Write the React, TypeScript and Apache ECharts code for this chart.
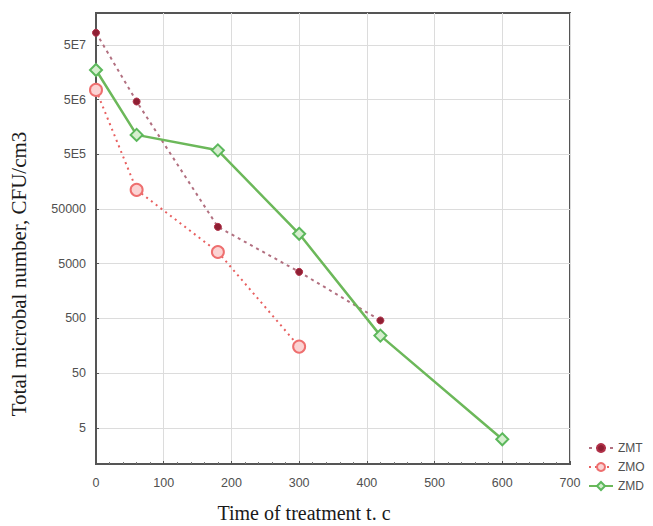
import React, { useEffect, useRef } from "react";
import * as echarts from "echarts";

const xTicks = [0, 100, 200, 300, 400, 500, 600, 700];
const yTickValues = [5, 50, 500, 5000, 50000, 5e5, 5e6, 5e7];
const yTickLabels = ["5", "50", "500", "5000", "50000", "5E5", "5E6", "5E7"];

const zmtTime = [0, 60, 180, 300, 420];
const zmtValues = [8.3e7, 4.6e6, 23600, 3550, 460];

const zmoTime = [0, 60, 180, 300];
const zmoValues = [7.5e6, 1.12e5, 8200, 153];

const zmdTime = [0, 60, 180, 300, 420, 600];
const zmdValues = [1.73e7, 1.13e6, 5.9e5, 17600, 243, 3.1];

const lg = (v: number) => Math.log10(v);

export default function App() {
  const ref = useRef<HTMLDivElement>(null);
  useEffect(() => {
    if (!ref.current) return;
    const chart = echarts.init(ref.current, null, { renderer: "svg" });
    const yCustom = yTickValues.map(lg);
    const fmtY = (v: number) => {
      for (let i = 0; i < yCustom.length; i++) {
        if (Math.abs(yCustom[i] - v) < 1e-6) return yTickLabels[i];
      }
      return "";
    };
    const mk = (t: number[], v: number[]) => t.map((x, i) => [x, lg(v[i])]);
    const labelStyle = { color: "#505050", fontSize: 12.5, fontFamily: "Liberation Sans" };
    chart.setOption({
      animation: false,
      backgroundColor: "#fff",
      grid: {
        left: 96,
        right: 83,
        top: 13,
        bottom: 62,
        show: true,
        borderColor: "#555",
        borderWidth: 2,
      },
      legend: {
        orient: "vertical",
        left: 588,
        top: 442,
        itemWidth: 24,
        itemHeight: 10,
        itemGap: 7,
        padding: 0,
        textStyle: { color: "#505050", fontSize: 12, fontFamily: "Liberation Sans" },
        data: ["ZMT", "ZMO", "ZMD"],
      },
      xAxis: {
        type: "value",
        min: 0,
        max: 700,
        interval: 100,
        axisLine: { show: true, lineStyle: { color: "#555", width: 2 } },
        axisTick: { show: true, inside: true, length: 3, lineStyle: { color: "#555" } },
        minorTick: { show: true, splitNumber: 5, length: 2, lineStyle: { color: "#777" } },
        axisLabel: { ...labelStyle, margin: 12, formatter: (v: number) => (xTicks.includes(v) ? String(v) : "") },
        splitLine: { show: true, lineStyle: { color: "#dcdcdc", width: 1 } },
      },
      yAxis: {
        type: "value",
        min: 0.04,
        max: 8.28,
        axisLine: { show: true, lineStyle: { color: "#555", width: 2 } },
        axisTick: { show: true, inside: true, length: 3, customValues: yCustom, lineStyle: { color: "#555" } },
        axisLabel: { ...labelStyle, margin: 10, customValues: yCustom, formatter: fmtY },
        splitLine: { show: true, lineStyle: { color: "#dcdcdc", width: 1 } },
      },
      graphic: [
        {
          type: "text",
          x: 19,
          y: 274,
          rotation: Math.PI / 2,
          style: {
            text: "Total microbal number, CFU/cm3",
            textAlign: "center",
            textVerticalAlign: "middle",
            fontFamily: "Liberation Serif",
            fontSize: 21,
            fill: "#1a1a1a",
          },
        },
        {
          type: "text",
          x: 304,
          y: 513,
          style: {
            text: "Time of treatment t. c",
            textAlign: "center",
            textVerticalAlign: "middle",
            fontFamily: "Liberation Serif",
            fontSize: 20,
            fill: "#1a1a1a",
          },
        },
      ],
      series: [
        {
          name: "ZMT",
          type: "line",
          data: mk(zmtTime, zmtValues),
          symbol: "circle",
          symbolSize: 7,
          itemStyle: { color: "#8e1f33", borderColor: "#b03048", borderWidth: 1 },
          lineStyle: { color: "#b27080", width: 2, type: [3, 4] },
          z: 3,
        },
        {
          name: "ZMO",
          type: "line",
          data: mk(zmoTime, zmoValues),
          symbol: "circle",
          symbolSize: 12,
          itemStyle: { color: "#fbd3d3", borderColor: "#ee6f6f", borderWidth: 2 },
          lineStyle: { color: "#e86060", width: 2, type: [2, 4] },
          z: 2,
        },
        {
          name: "ZMD",
          type: "line",
          data: mk(zmdTime, zmdValues),
          symbol: "diamond",
          symbolSize: 12,
          itemStyle: { color: "#d6efcf", borderColor: "#5cb85c", borderWidth: 2 },
          lineStyle: { color: "#6cb85a", width: 2.5 },
          z: 4,
        },
      ],
    });
    return () => chart.dispose();
  }, []);
  return <div ref={ref} style={{ width: 653, height: 526, position: "absolute", left: 0, top: 0 }} />;
}
